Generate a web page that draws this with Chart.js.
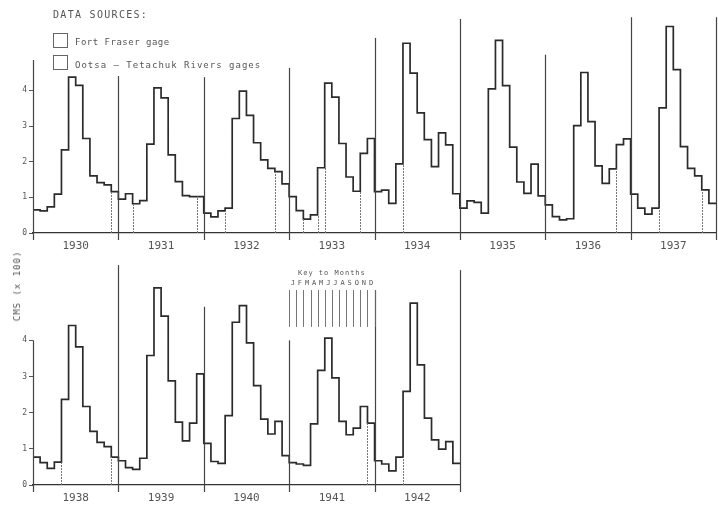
<!DOCTYPE html>
<html>
<head>
<meta charset="utf-8">
<script src="https://cdn.jsdelivr.net/npm/chart.js@4.4.1/dist/chart.umd.min.js"></script>
<style>
  body { margin: 0; background: #fff; }
  #wrap { position: relative; width: 718px; height: 507px; overflow: hidden; }
  canvas { position: absolute; }
  .txt { position: absolute; font-family: "DejaVu Sans Mono", monospace; color: #555; white-space: nowrap; }
  .box { position: absolute; width: 13px; height: 13px; border: 1px solid #666; }
</style>
</head>
<body>
<div id="wrap">
  <canvas id="topChart" style="left:0;top:0"></canvas>
  <canvas id="bottomChart" style="left:0;top:250px"></canvas>
  <div class="txt" style="left:53px;top:9px;font-size:10px;letter-spacing:1.3px">DATA SOURCES:</div>
  <div class="box" style="left:53px;top:33px"></div>
  <div class="txt" style="left:75px;top:37px;font-size:9px;letter-spacing:0.5px">Fort Fraser gage</div>
  <div class="box" style="left:53px;top:55px"></div>
  <div class="txt" style="left:75px;top:60px;font-size:9px;letter-spacing:1px">Ootsa – Tetachuk Rivers gages</div>
  <div class="txt" style="left:17px;top:286px;font-size:9px;letter-spacing:1px;transform:translate(-50%,-50%) rotate(-90deg)">CMS (x 100)</div>
</div>
<script>
// monthly mean flow, CMS x 100, Jan..Dec
var q1930 = [0.65, 0.62, 0.73, 1.09, 2.33, 4.37, 4.14, 2.65, 1.60, 1.41, 1.35, 1.16];
var q1931 = [0.95, 1.10, 0.82, 0.91, 2.49, 4.07, 3.79, 2.19, 1.44, 1.05, 1.02, 1.02];
var q1932 = [0.56, 0.45, 0.62, 0.70, 3.21, 3.98, 3.30, 2.53, 2.05, 1.81, 1.72, 1.38];
var q1933 = [1.02, 0.63, 0.39, 0.51, 1.83, 4.20, 3.81, 2.51, 1.57, 1.17, 2.23, 2.65];
var q1934 = [1.16, 1.20, 0.83, 1.94, 5.32, 4.48, 3.37, 2.62, 1.86, 2.81, 2.47, 1.10];
var q1935 = [0.70, 0.90, 0.86, 0.56, 4.04, 5.40, 4.13, 2.41, 1.43, 1.11, 1.93, 1.04];
var q1936 = [0.79, 0.46, 0.37, 0.40, 3.01, 4.50, 3.12, 1.88, 1.39, 1.80, 2.48, 2.64];
var q1937 = [1.09, 0.70, 0.53, 0.70, 3.51, 5.79, 4.58, 2.42, 1.81, 1.60, 1.21, 0.83];
var q1938 = [0.77, 0.62, 0.46, 0.63, 2.37, 4.41, 3.82, 2.17, 1.48, 1.18, 1.06, 0.77];
var q1939 = [0.67, 0.48, 0.43, 0.74, 3.58, 5.45, 4.67, 2.88, 1.74, 1.22, 1.71, 3.07];
var q1940 = [1.15, 0.65, 0.60, 1.92, 4.50, 4.96, 3.93, 2.75, 1.82, 1.41, 1.76, 0.81];
var q1941 = [0.62, 0.58, 0.54, 1.69, 3.17, 4.06, 2.96, 1.76, 1.39, 1.57, 2.17, 1.71];
var q1942 = [0.67, 0.58, 0.39, 0.77, 2.59, 5.03, 3.32, 1.85, 1.25, 0.99, 1.20, 0.60];

var yearsTop = ['1930', '1931', '1932', '1933', '1934', '1935', '1936', '1937'];
var yearsBottom = ['1938', '1939', '1940', '1941', '1942'];
var monthLetters = ['J', 'F', 'M', 'A', 'M', 'J', 'J', 'A', 'S', 'O', 'N', 'D'];
var yTicks = [0, 1, 2, 3, 4];

// month index (from start of row) where the gage source changes
var sourceMarksTop = [11, 14, 23, 27, 34, 38, 40, 41, 46, 52, 82, 88, 94];
var sourceMarksBottom = [4, 11, 47, 52];

var flowTop = [].concat(q1930, q1931, q1932, q1933, q1934, q1935, q1936, q1937);
var flowBottom = [].concat(q1938, q1939, q1940, q1941, q1942);

// how high each year divider reaches (y units)
var dividerTop = [4.85, 4.4, 4.37, 4.63, 5.47, 6.0, 5.0, 6.05, 6.05];
var dividerBottom = [4.0, 6.08, 4.93, 4.0, 5.39, 5.94];

function toPoints(arr) {
    var pts = arr.map((v, i) => ({ x: i, y: v }));
    pts.push({ x: arr.length, y: arr[arr.length - 1] });
    return pts;
}

var decor = {
    id: 'decor',
    afterDatasetsDraw(chart, args, opts) {
        var ctx = chart.ctx, x = chart.scales.x, y = chart.scales.y;
        var data = opts.flow;
        ctx.save();
        // year dividers
        ctx.strokeStyle = '#444';
        ctx.lineWidth = 1.2;
        opts.dividers.forEach((h, i) => {
            var px = Math.round(x.getPixelForValue(i * 12)) + 0.5;
            ctx.beginPath();
            ctx.moveTo(px, y.getPixelForValue(h));
            ctx.lineTo(px, y.getPixelForValue(0) + 7);
            ctx.stroke();
        });
        // source change marks
        ctx.strokeStyle = '#777';
        ctx.lineWidth = 1;
        ctx.setLineDash([2, 1]);
        opts.marks.forEach(m => {
            var px = Math.round(x.getPixelForValue(m)) + 0.5;
            var top = Math.min(data[m - 1], data[m]);
            ctx.beginPath();
            ctx.moveTo(px, y.getPixelForValue(0));
            ctx.lineTo(px, y.getPixelForValue(top));
            ctx.stroke();
        });
        ctx.setLineDash([]);
        // key to months
        if (opts.keyStart != null) {
            var k = opts.keyStart;
            ctx.strokeStyle = '#666';
            ctx.lineWidth = 0.9;
            for (var i = 0; i <= 12; i++) {
                var px = Math.round(x.getPixelForValue(k + i)) + 0.5;
                ctx.beginPath();
                ctx.moveTo(px, y.getPixelForValue(5.39));
                ctx.lineTo(px, y.getPixelForValue(4.37));
                ctx.stroke();
            }
            ctx.fillStyle = '#555';
            ctx.font = '7px "DejaVu Sans Mono"';
            ctx.textAlign = 'center';
            ctx.textBaseline = 'middle';
            monthLetters.forEach((l, i) => {
                ctx.fillText(l, x.getPixelForValue(k + i + 0.5), y.getPixelForValue(5.57));
            });
            ctx.letterSpacing = '1px';
            ctx.fillText('Key to Months', x.getPixelForValue(k + 6), y.getPixelForValue(5.87));
        }
        ctx.restore();
    }
};

function makeChart(id, width, height, flow, years, dividers, marks, keyStart, padTop, axisH) {
    var canvas = document.getElementById(id);
    canvas.style.width = width + 'px';
    canvas.style.height = height + 'px';
    canvas.width = width;
    canvas.height = height;
    return new Chart(canvas.getContext('2d'), {
        type: 'line',
        data: {
            datasets: [{
                data: toPoints(flow),
                stepped: true,
                borderColor: '#2b2b2b',
                borderWidth: 1.7,
                pointRadius: 0,
                fill: false
            }]
        },
        options: {
            responsive: false,
            animation: false,
            layout: { padding: { top: padTop, right: 2, left: 0, bottom: 0 } },
            plugins: {
                legend: { display: false },
                tooltip: { enabled: false },
                decor: { flow: flow, dividers: dividers, marks: marks, keyStart: keyStart }
            },
            scales: {
                x: {
                    type: 'linear',
                    min: 0,
                    max: flow.length,
                    grid: { display: false, tickLength: 0 },
                    border: { display: true, color: '#333', width: 1.3 },
                    afterBuildTicks: s => { s.ticks = years.map((yr, i) => ({ value: i * 12 + 6 })); },
                    afterFit: s => { s.height = axisH; },
                    ticks: {
                        autoSkip: false,
                        maxRotation: 0,
                        padding: 7,
                        color: '#555',
                        font: { family: 'DejaVu Sans Mono', size: 11 },
                        callback: (v, i) => years[i]
                    }
                },
                y: {
                    min: 0,
                    max: 6,
                    afterBuildTicks: s => { s.ticks = yTicks.map(v => ({ value: v })); },
                    afterFit: s => { s.width = 33; },
                    grid: { drawOnChartArea: false, drawTicks: true, tickLength: 4, color: '#555' },
                    border: { display: false },
                    ticks: {
                        padding: 2,
                        color: '#555',
                        font: { family: 'DejaVu Sans Mono', size: 8 }
                    }
                }
            }
        },
        plugins: [decor]
    });
}

makeChart('topChart', 718, 256, flowTop, yearsTop, dividerTop, sourceMarksTop, null, 19, 23);
makeChart('bottomChart', 462, 257, flowBottom, yearsBottom, dividerBottom, sourceMarksBottom, 36, 18, 22);
</script>
</body>
</html>
